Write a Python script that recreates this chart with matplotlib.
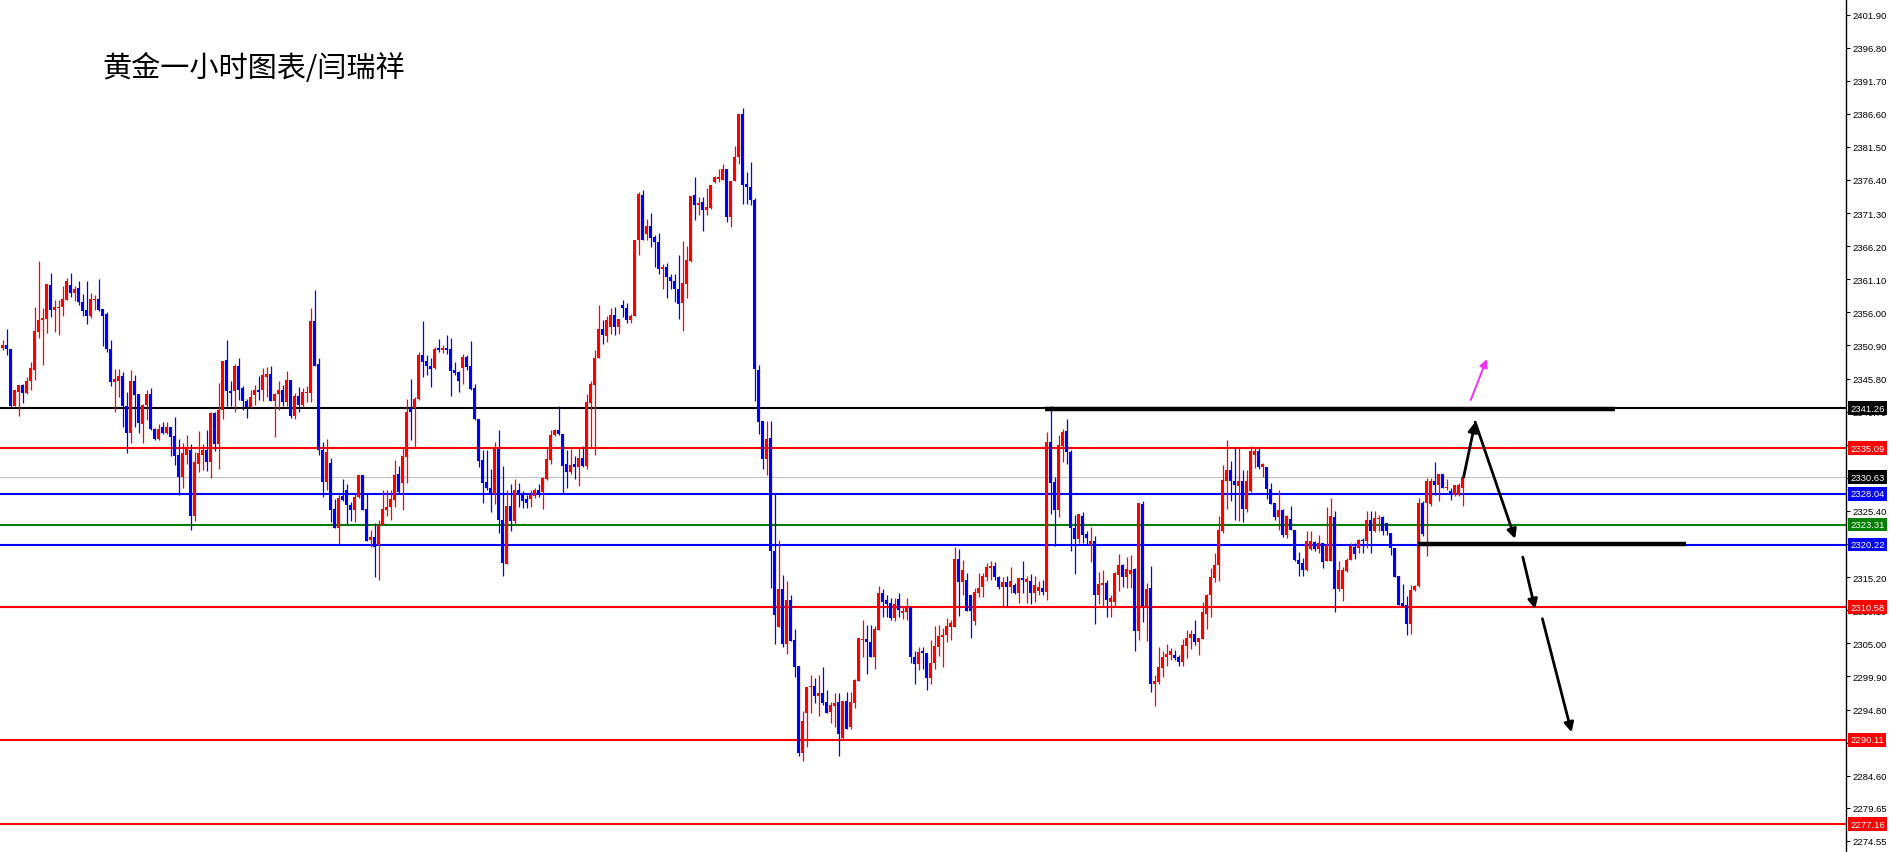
import numpy as np
import matplotlib
matplotlib.use("Agg")
import matplotlib.pyplot as plt

# hourly gold candles (open / high / low / close)
opens = [
    2350.5, 2350.9, 2350.3, 2341.6, 2343.7, 2344.75, 2343.6, 2345.4, 2347.1, 2353.0,
    2354.8, 2355.0, 2360.2, 2356.3, 2356.7, 2356.8, 2357.85, 2360.2, 2359.0, 2359.7,
    2357.6, 2356.3, 2355.4, 2357.85, 2358.1, 2356.5, 2355.7, 2350.4, 2345.3, 2345.5,
    2346.2, 2341.5, 2337.4, 2345.5, 2343.4, 2338.8, 2341.8, 2343.5, 2338.1, 2336.5,
    2338.3, 2337.4, 2338.3, 2336.9, 2334.0, 2330.6, 2334.1, 2334.8, 2324.7, 2332.6,
    2334.1, 2334.8, 2332.9, 2340.5, 2335.7, 2340.9, 2348.6, 2343.95, 2343.95, 2347.8,
    2344.3, 2342.4, 2341.4, 2343.2, 2344.0, 2344.0, 2346.1, 2346.45, 2342.3, 2343.4,
    2344.0, 2342.2, 2345.6, 2340.1, 2343.05, 2341.8, 2343.6, 2343.6, 2354.6, 2348.0,
    2334.8, 2329.85, 2332.8, 2325.75, 2322.8, 2327.65, 2328.7, 2326.3, 2325.5, 2327.5,
    2330.9, 2325.75, 2321.0, 2321.4, 2320.1, 2323.3, 2325.6, 2326.0, 2327.1, 2331.1,
    2329.7, 2333.7, 2341.2, 2341.2, 2342.7, 2349.4, 2348.45, 2347.8, 2347.4, 2350.5,
    2350.15, 2350.5, 2350.4, 2347.07, 2346.8, 2347.4, 2349.2, 2347.7, 2344.4, 2339.6,
    2333.2, 2329.8, 2329.0, 2328.06, 2335.0, 2324.06, 2317.3, 2326.1, 2323.85, 2328.7,
    2327.9, 2327.2, 2327.2, 2327.65, 2328.7, 2328.3, 2330.3, 2333.3, 2337.05, 2337.9,
    2337.2, 2332.6, 2331.4, 2332.6, 2332.2, 2333.6, 2332.3, 2342.0, 2344.75, 2348.9,
    2353.5, 2352.35, 2353.75, 2355.65, 2353.75, 2357.1, 2356.7, 2354.77, 2355.4, 2367.2,
    2374.1, 2368.13, 2369.3, 2367.6, 2366.9, 2362.7, 2363.0, 2361.45, 2360.9, 2359.65,
    2357.4, 2360.4, 2363.9, 2374.1, 2372.6, 2373.0, 2371.8, 2372.1, 2376.1, 2376.6,
    2376.45, 2378.1, 2370.7, 2376.3, 2379.9, 2386.5, 2375.8, 2375.3, 2373.36, 2347.1,
    2339.2, 2333.46, 2336.6, 2319.3, 2307.56, 2313.3, 2304.9, 2311.67, 2305.5, 2301.5,
    2288.15, 2294.3, 2298.2, 2298.4, 2296.9, 2297.4, 2296.0, 2294.4, 2295.4, 2296.0,
    2290.36, 2296.1, 2292.05, 2295.75, 2299.2, 2305.5, 2305.65, 2305.15, 2302.84, 2307.05,
    2312.7, 2311.67, 2311.2, 2308.85, 2311.8, 2309.7, 2309.9, 2310.65, 2302.9, 2301.8,
    2303.8, 2303.56, 2299.6, 2302.0, 2304.5, 2306.0, 2306.3, 2307.56, 2307.56, 2317.94,
    2314.5, 2314.75, 2312.45, 2308.5, 2312.8, 2313.7, 2315.27, 2316.55, 2316.9, 2315.17,
    2313.73, 2314.5, 2313.73, 2313.98, 2312.7, 2315.0, 2314.4, 2314.6, 2312.7, 2313.1,
    2313.47, 2312.85, 2336.07, 2329.8, 2325.54, 2335.45, 2337.76, 2334.5, 2322.8, 2321.07,
    2324.6, 2321.9, 2320.15, 2320.76, 2312.44, 2313.98, 2314.24, 2311.4, 2311.4, 2315.5,
    2317.07, 2315.27, 2315.7, 2316.4, 2306.95, 2326.4, 2310.73, 2313.46, 2298.77, 2299.07,
    2301.23, 2302.88, 2303.2, 2303.2, 2302.88, 2302.16, 2304.57, 2305.86, 2306.5, 2305.24,
    2305.7, 2309.55, 2312.43, 2315.1, 2317.05, 2322.27, 2329.97, 2331.77, 2330.07, 2329.3,
    2329.97, 2325.76, 2328.43, 2333.98, 2334.6, 2332.18, 2332.18, 2328.84, 2326.64, 2324.48,
    2325.6, 2321.65, 2324.2, 2322.53, 2317.9, 2317.4, 2316.36, 2319.55, 2320.6, 2319.55,
    2320.47, 2317.65, 2317.65, 2324.43, 2313.44, 2313.3, 2316.1, 2317.9, 2319.8, 2319.7,
    2320.99, 2320.83, 2324.07, 2322.27, 2324.2, 2324.43, 2323.55, 2322.0, 2319.7, 2315.34,
    2311.23, 2310.97, 2307.99, 2313.28, 2313.8, 2326.64, 2326.64, 2326.4, 2329.98, 2329.36,
    2331.1, 2329.0, 2328.54, 2327.9, 2327.9, 2328.95,
]
highs = [
    2351.8, 2353.5, 2350.4, 2344.0, 2344.85, 2345.0, 2346.0, 2348.3, 2356.9, 2363.9,
    2356.7, 2360.4, 2362.0, 2357.85, 2357.85, 2360.05, 2361.3, 2362.1, 2360.0, 2360.9,
    2358.9, 2360.8, 2359.0, 2358.7, 2361.2, 2356.5, 2356.0, 2351.7, 2347.3, 2347.3,
    2346.8, 2343.7, 2347.05, 2346.3, 2343.5, 2341.9, 2344.1, 2344.3, 2338.2, 2338.8,
    2339.1, 2339.1, 2338.3, 2339.9, 2336.5, 2335.8, 2337.05, 2335.7, 2334.5, 2337.7,
    2335.7, 2337.8, 2340.6, 2340.6, 2345.1, 2348.45, 2351.7, 2345.5, 2348.1, 2348.9,
    2344.6, 2342.7, 2344.0, 2344.85, 2346.2, 2347.4, 2347.6, 2347.7, 2343.6, 2345.4,
    2344.75, 2346.9, 2345.6, 2343.6, 2344.5, 2344.3, 2344.6, 2356.6, 2359.5, 2348.9,
    2336.1, 2336.5, 2333.6, 2327.3, 2327.9, 2330.4, 2329.6, 2326.8, 2327.95, 2331.0,
    2330.9, 2328.05, 2322.4, 2323.5, 2324.0, 2328.7, 2328.6, 2328.7, 2333.2, 2332.3,
    2335.26, 2342.6, 2345.7, 2342.95, 2349.9, 2354.7, 2349.4, 2348.9, 2350.66, 2351.95,
    2350.9, 2352.55, 2352.1, 2348.35, 2346.97, 2349.6, 2349.5, 2351.6, 2345.0, 2339.6,
    2334.74, 2334.74, 2331.9, 2336.0, 2337.8, 2332.4, 2328.7, 2329.6, 2330.3, 2329.7,
    2328.5, 2327.9, 2328.6, 2328.9, 2329.6, 2330.6, 2335.25, 2337.8, 2338.1, 2341.5,
    2337.3, 2334.85, 2335.0, 2333.8, 2335.25, 2335.4, 2343.5, 2345.5, 2350.25, 2357.2,
    2354.9, 2355.5, 2356.6, 2356.8, 2355.0, 2357.85, 2357.45, 2355.8, 2367.2, 2374.55,
    2374.8, 2370.4, 2371.3, 2367.87, 2368.2, 2363.5, 2363.6, 2361.95, 2361.85, 2364.9,
    2367.0, 2366.3, 2374.0, 2376.85, 2373.8, 2373.8, 2375.2, 2375.6, 2377.0, 2378.1,
    2378.9, 2378.1, 2376.3, 2381.6, 2386.5, 2387.5, 2377.6, 2379.2, 2373.6, 2347.84,
    2339.2, 2339.2, 2339.25, 2328.1, 2321.0, 2315.5, 2314.6, 2312.45, 2307.15, 2301.5,
    2294.5, 2298.3, 2300.1, 2299.6, 2300.1, 2301.4, 2297.8, 2296.0, 2297.3, 2297.3,
    2296.1, 2297.45, 2297.45, 2299.45, 2305.9, 2308.6, 2307.8, 2307.8, 2307.6, 2313.8,
    2313.3, 2312.45, 2311.93, 2311.93, 2312.7, 2310.65, 2311.93, 2310.65, 2303.87, 2304.5,
    2304.5, 2303.56, 2305.5, 2307.6, 2307.8, 2307.3, 2308.85, 2308.6, 2319.9, 2319.6,
    2317.8, 2315.9, 2312.45, 2313.47, 2315.8, 2315.9, 2317.4, 2317.7, 2317.6, 2315.37,
    2315.27, 2315.37, 2316.8, 2314.24, 2315.1, 2317.68, 2315.37, 2315.7, 2315.37, 2314.65,
    2314.75, 2337.5, 2341.57, 2330.7, 2337.1, 2338.0, 2339.57, 2334.8, 2324.77, 2324.9,
    2325.2, 2322.35, 2322.97, 2321.5, 2316.04, 2316.3, 2314.75, 2312.45, 2316.04, 2318.76,
    2317.17, 2318.25, 2318.6, 2316.55, 2326.57, 2327.0, 2314.3, 2316.9, 2300.2, 2304.4,
    2303.8, 2304.83, 2304.3, 2303.95, 2303.2, 2305.6, 2307.0, 2307.0, 2308.58, 2305.86,
    2311.35, 2312.6, 2316.64, 2319.0, 2324.58, 2332.54, 2336.3, 2333.05, 2335.26, 2335.1,
    2331.77, 2331.67, 2335.37, 2335.26, 2335.1, 2332.8, 2332.18, 2329.7, 2326.64, 2328.7,
    2325.76, 2324.84, 2326.1, 2322.53, 2319.03, 2318.16, 2322.27, 2322.27, 2320.73, 2321.75,
    2320.47, 2325.97, 2327.4, 2325.45, 2317.65, 2316.7, 2318.16, 2320.47, 2320.47, 2321.09,
    2321.24, 2325.35, 2325.35, 2325.35, 2324.84, 2324.58, 2323.6, 2322.0, 2319.7, 2315.34,
    2314.16, 2312.25, 2314.05, 2314.05, 2327.4, 2326.9, 2330.5, 2330.5, 2332.9, 2331.1,
    2331.1, 2330.25, 2328.95, 2329.46, 2329.72, 2330.75,
]
lows = [
    2350.2, 2349.5, 2341.4, 2341.6, 2340.0, 2342.0, 2343.5, 2344.0, 2345.6, 2352.0,
    2347.9, 2352.8, 2355.3, 2353.0, 2352.5, 2355.4, 2357.85, 2358.4, 2357.7, 2357.1,
    2355.5, 2354.25, 2355.1, 2356.4, 2356.15, 2350.8, 2349.9, 2344.6, 2340.6, 2343.0,
    2338.4, 2334.3, 2335.8, 2338.3, 2337.4, 2335.9, 2339.4, 2337.9, 2336.3, 2336.4,
    2337.2, 2337.3, 2333.8, 2332.5, 2327.9, 2328.9, 2332.7, 2322.4, 2323.85, 2331.4,
    2331.65, 2331.6, 2330.5, 2334.7, 2331.8, 2339.6, 2341.5, 2341.5, 2340.6, 2342.5,
    2341.0, 2339.7, 2341.25, 2341.7, 2342.5, 2342.4, 2343.0, 2342.3, 2336.8, 2340.9,
    2341.6, 2341.5, 2339.7, 2339.5, 2340.7, 2341.4, 2342.2, 2342.2, 2347.8, 2334.0,
    2327.5, 2328.6, 2323.7, 2322.7, 2320.25, 2326.9, 2323.2, 2323.8, 2323.7, 2327.45,
    2325.6, 2320.8, 2319.85, 2315.2, 2314.7, 2323.3, 2324.7, 2324.05, 2326.0, 2328.05,
    2325.5, 2329.7, 2336.3, 2335.25, 2342.45, 2346.0, 2346.3, 2344.5, 2347.3, 2349.9,
    2349.7, 2349.6, 2343.06, 2346.3, 2343.8, 2345.0, 2347.07, 2344.0, 2339.35, 2332.2,
    2326.6, 2328.6, 2325.2, 2326.5, 2322.0, 2315.4, 2317.2, 2322.3, 2323.4, 2326.0,
    2325.85, 2325.85, 2326.0, 2327.4, 2327.55, 2325.65, 2330.1, 2332.7, 2336.9, 2337.05,
    2327.96, 2328.9, 2331.15, 2330.4, 2329.25, 2332.2, 2331.9, 2335.25, 2333.97, 2348.9,
    2351.2, 2351.4, 2352.7, 2352.5, 2352.7, 2355.3, 2354.4, 2354.4, 2355.4, 2364.8,
    2367.1, 2367.2, 2366.07, 2363.0, 2361.95, 2359.65, 2358.2, 2359.65, 2357.6, 2355.0,
    2353.2, 2358.25, 2363.8, 2370.2, 2370.95, 2368.6, 2370.95, 2371.97, 2375.9, 2376.1,
    2376.35, 2369.9, 2369.15, 2376.2, 2378.9, 2372.75, 2372.75, 2372.6, 2342.3, 2337.3,
    2331.9, 2330.9, 2313.47, 2304.9, 2307.56, 2304.4, 2303.35, 2305.4, 2299.86, 2287.6,
    2286.8, 2289.07, 2294.2, 2295.75, 2293.8, 2295.5, 2294.3, 2292.67, 2292.15, 2287.7,
    2290.26, 2291.8, 2291.8, 2295.1, 2299.2, 2302.84, 2300.3, 2302.84, 2301.1, 2307.05,
    2309.0, 2309.1, 2308.6, 2308.5, 2309.0, 2308.75, 2308.6, 2301.9, 2298.8, 2300.9,
    2301.1, 2297.8, 2298.7, 2301.0, 2303.05, 2301.4, 2305.25, 2305.5, 2307.56, 2309.26,
    2312.45, 2309.98, 2305.87, 2307.8, 2312.2, 2312.2, 2314.65, 2314.75, 2314.75, 2313.37,
    2310.8, 2310.8, 2312.7, 2312.6, 2311.16, 2312.7, 2311.16, 2311.0, 2311.4, 2312.45,
    2312.45, 2311.67, 2325.0, 2320.0, 2324.5, 2333.0, 2332.7, 2319.27, 2315.67, 2320.4,
    2320.4, 2320.3, 2317.57, 2307.97, 2311.06, 2310.65, 2309.1, 2309.0, 2310.65, 2313.1,
    2313.73, 2313.6, 2313.6, 2303.87, 2305.5, 2308.3, 2305.34, 2297.5, 2295.33, 2298.77,
    2299.8, 2301.5, 2302.5, 2302.5, 2301.5, 2301.5, 2302.77, 2304.06, 2304.7, 2303.2,
    2305.6, 2307.24, 2309.04, 2314.5, 2314.57, 2322.0, 2325.76, 2326.9, 2323.96, 2323.8,
    2323.7, 2325.2, 2328.33, 2332.03, 2331.87, 2330.6, 2327.3, 2326.53, 2324.07, 2322.4,
    2321.35, 2321.24, 2322.53, 2317.65, 2315.34, 2315.34, 2316.2, 2319.34, 2319.2, 2318.93,
    2316.62, 2317.65, 2317.65, 2309.79, 2313.13, 2311.5, 2316.0, 2317.9, 2318.06, 2318.93,
    2318.93, 2319.7, 2318.93, 2322.17, 2322.27, 2321.65, 2321.65, 2318.57, 2315.23, 2310.97,
    2310.72, 2306.35, 2306.45, 2313.03, 2313.64, 2321.6, 2318.4, 2326.13, 2327.9, 2327.0,
    2328.9, 2328.7, 2327.15, 2327.67, 2327.67, 2326.13,
]
closes = [
    2350.9, 2350.3, 2341.5, 2344.0, 2344.75, 2343.6, 2345.5, 2347.4, 2353.1, 2354.9,
    2355.1, 2360.3, 2356.3, 2356.9, 2356.9, 2358.0, 2360.9, 2359.0, 2359.6, 2357.6,
    2356.15, 2355.4, 2358.0, 2358.1, 2356.4, 2355.5, 2350.3, 2345.3, 2345.7, 2346.2,
    2341.5, 2337.4, 2345.5, 2343.3, 2338.95, 2341.8, 2343.5, 2338.1, 2336.5, 2338.1,
    2337.4, 2338.3, 2336.8, 2333.8, 2330.6, 2334.3, 2334.9, 2324.7, 2332.9, 2334.3,
    2334.8, 2332.9, 2340.5, 2335.7, 2341.0, 2348.45, 2343.9, 2343.6, 2347.7, 2344.1,
    2342.4, 2341.4, 2343.0, 2344.1, 2343.8, 2346.3, 2346.45, 2342.3, 2343.5, 2344.0,
    2342.2, 2345.6, 2340.1, 2343.05, 2341.8, 2343.8, 2343.8, 2354.6, 2347.8, 2334.8,
    2329.85, 2334.5, 2325.6, 2322.8, 2327.45, 2327.05, 2326.3, 2325.5, 2327.5, 2330.9,
    2325.6, 2320.8, 2321.4, 2319.85, 2323.3, 2325.75, 2326.0, 2327.3, 2331.0, 2328.3,
    2333.8, 2340.65, 2340.65, 2342.7, 2349.4, 2348.35, 2347.7, 2347.3, 2350.4, 2350.25,
    2350.56, 2350.25, 2346.9, 2346.65, 2345.4, 2349.2, 2347.6, 2344.25, 2339.6, 2333.1,
    2329.7, 2329.0, 2327.9, 2335.25, 2323.96, 2317.4, 2326.1, 2323.85, 2328.7, 2327.8,
    2327.0, 2326.6, 2327.8, 2328.7, 2328.1, 2330.5, 2333.4, 2337.05, 2337.9, 2337.2,
    2332.4, 2331.4, 2332.5, 2332.2, 2333.6, 2332.3, 2342.2, 2344.9, 2348.97, 2353.5,
    2352.5, 2354.9, 2355.65, 2353.75, 2355.0, 2356.6, 2354.77, 2355.5, 2367.2, 2374.2,
    2367.2, 2369.3, 2367.46, 2366.84, 2362.7, 2363.0, 2361.45, 2360.9, 2359.65, 2357.34,
    2360.5, 2364.0, 2374.0, 2372.6, 2372.9, 2371.8, 2372.3, 2375.6, 2376.85, 2376.85,
    2378.1, 2370.7, 2376.3, 2379.9, 2386.5, 2375.6, 2375.3, 2373.36, 2347.2, 2339.1,
    2333.46, 2336.5, 2319.27, 2309.36, 2313.3, 2304.9, 2311.67, 2305.4, 2301.4, 2288.15,
    2293.0, 2298.3, 2298.4, 2296.9, 2297.4, 2295.75, 2294.3, 2295.5, 2295.85, 2291.1,
    2296.1, 2291.8, 2296.0, 2299.35, 2305.77, 2305.65, 2305.15, 2302.84, 2307.15, 2312.7,
    2311.4, 2311.06, 2308.85, 2311.06, 2310.13, 2310.0, 2310.65, 2302.84, 2301.8, 2303.7,
    2303.5, 2299.6, 2302.0, 2304.6, 2306.1, 2306.3, 2307.67, 2308.1, 2317.94, 2314.5,
    2316.3, 2309.98, 2309.98, 2312.96, 2313.6, 2315.37, 2316.8, 2316.97, 2315.17, 2313.73,
    2314.5, 2313.73, 2314.6, 2312.7, 2315.0, 2314.75, 2314.86, 2312.7, 2313.98, 2313.73,
    2312.85, 2336.07, 2329.75, 2325.54, 2335.55, 2337.6, 2334.5, 2322.7, 2321.07, 2324.9,
    2321.7, 2321.17, 2320.76, 2312.44, 2314.14, 2314.34, 2311.67, 2311.93, 2315.78, 2317.07,
    2315.27, 2316.4, 2316.3, 2306.95, 2326.57, 2310.8, 2313.3, 2298.77, 2299.18, 2301.34,
    2302.88, 2303.4, 2303.8, 2302.67, 2302.16, 2304.73, 2305.75, 2306.5, 2305.24, 2305.75,
    2309.86, 2312.43, 2315.2, 2317.15, 2322.53, 2330.23, 2331.77, 2329.97, 2329.46, 2329.97,
    2325.76, 2329.97, 2334.6, 2334.6, 2332.18, 2332.7, 2328.84, 2326.53, 2324.48, 2325.6,
    2321.65, 2324.58, 2322.53, 2317.8, 2317.24, 2316.36, 2320.73, 2320.73, 2319.55, 2320.47,
    2317.49, 2320.2, 2324.58, 2313.44, 2316.36, 2316.36, 2317.9, 2319.96, 2318.78, 2320.99,
    2320.83, 2323.96, 2322.27, 2324.32, 2324.3, 2322.27, 2322.27, 2319.7, 2315.23, 2310.97,
    2310.72, 2307.99, 2313.28, 2313.8, 2326.64, 2321.86, 2329.98, 2329.98, 2329.36, 2331.1,
    2328.95, 2329.1, 2327.9, 2329.36, 2329.36, 2330.6,
]

# horizontal levels and their colours
levels = [2341.26, 2335.09, 2330.63, 2328.04, 2323.31, 2320.22, 2310.58, 2290.11, 2277.16]
level_colors = ["black", "#ff0000", "#c0c0c0", "#0000ff", "#008000", "#0000ff",
                "#ff0000", "#ff0000", "#ff0000"]
label_colors = ["black", "#ff0000", "black", "#0000ff", "#008000", "#0000ff",
                "#ff0000", "#ff0000", "#ff0000"]

tick_values = [2401.90, 2396.80, 2391.70, 2386.60, 2381.50, 2376.40, 2371.30, 2366.20,
               2361.10, 2356.00, 2350.90, 2345.80, 2340.70, 2335.60, 2330.50, 2325.40,
               2320.30, 2315.20, 2310.10, 2305.00, 2299.90, 2294.80, 2289.70, 2284.60,
               2279.65, 2274.55]

# hand-drawn thick segments: (start bar, end bar, price)
segments = [(260.6, 403.1, 2341.1), (353.9, 420.8, 2320.3)]

# hand-drawn arrows: (bar from, price from, bar to, price to)
black_arrows = [(365.2, 2330.6, 368.1, 2339.1),
                (368.1, 2339.1, 378.1, 2321.1),
                (380.0, 2318.3, 383.1, 2310.3),
                (384.9, 2308.8, 392.2, 2291.3)]
pink_arrow = (367.0, 2342.5, 371.0, 2348.8)

title = "黄金一小时图表/闫瑞祥"

n = min(len(opens), len(highs), len(lows), len(closes))
o = np.array(opens[:n])
c = np.array(closes[:n])
h = np.maximum(np.array(highs[:n]), np.maximum(o, c))
l = np.minimum(np.array(lows[:n]), np.minimum(o, c))
x = np.arange(n)
up = c >= o
cols = np.where(up, "#ff0000", "#0000ff")

W, H = 1892, 853
fig = plt.figure(figsize=(W / 100, H / 100), dpi=100)
fig.patch.set_facecolor("white")
ax = fig.add_axes([0, 0, 1846 / W, 1])
ax.set_xlim(-0.675, 460.8)
ax.set_ylim(2272.85, 2404.29)

# levels
for lv, col in zip(levels, level_colors):
    lw = 0.8 if col == "#c0c0c0" else 1.5
    ax.axhline(lv, color=col, lw=lw, zorder=1)

# candles
ax.vlines(x, l, h, colors=cols, lw=0.9, zorder=2)
body = np.abs(c - o)
body = np.where(body < 0.16, 0.16, body)
ax.bar(x, body, bottom=np.minimum(o, c), width=0.75, color=cols, linewidth=0, zorder=3)

for x0, x1, p in segments:
    ax.hlines(p, x0, x1, color="black", lw=3.2, zorder=4)

for x0, y0, x1, y1 in black_arrows:
    ax.annotate("", xy=(x1, y1), xytext=(x0, y0),
                arrowprops=dict(arrowstyle="-|>", color="black", lw=2.0,
                                mutation_scale=14, shrinkA=0, shrinkB=0), zorder=5)
ax.annotate("", xy=(pink_arrow[2], pink_arrow[3]), xytext=(pink_arrow[0], pink_arrow[1]),
            arrowprops=dict(arrowstyle="-|>", color="#f030f0", lw=1.4,
                            mutation_scale=12, shrinkA=0, shrinkB=0), zorder=5)

# right price axis
tick_font = "Liberation Sans"
for s in ["top", "bottom", "left"]:
    ax.spines[s].set_visible(False)
ax.spines["right"].set_color("black")
ax.spines["right"].set_linewidth(1.0)
ax.set_xticks([])
ax.yaxis.tick_right()
ax.set_yticks(tick_values)
ax.set_yticklabels([f"{v:.2f}" for v in tick_values], family=tick_font, fontsize=6.8)
ax.tick_params(axis="y", length=3, width=0.8, pad=2, colors="black")

for lv, bg in zip(levels, label_colors):
    ax.annotate(f"{lv:.2f}", xy=(1, lv), xycoords=("axes fraction", "data"),
                xytext=(3, 0), textcoords="offset points", ha="left", va="center",
                fontsize=6.8, family=tick_font, color="white", annotation_clip=False,
                bbox=dict(boxstyle="square,pad=0.25", fc=bg, ec="none"), zorder=10)

fig.text(102 / W, 1 - 69 / H, title, fontsize=21, ha="left", va="center",
         family=["Noto Sans CJK SC", "DejaVu Sans"], color="black")

fig.savefig("out.png", dpi=100, facecolor="white")
